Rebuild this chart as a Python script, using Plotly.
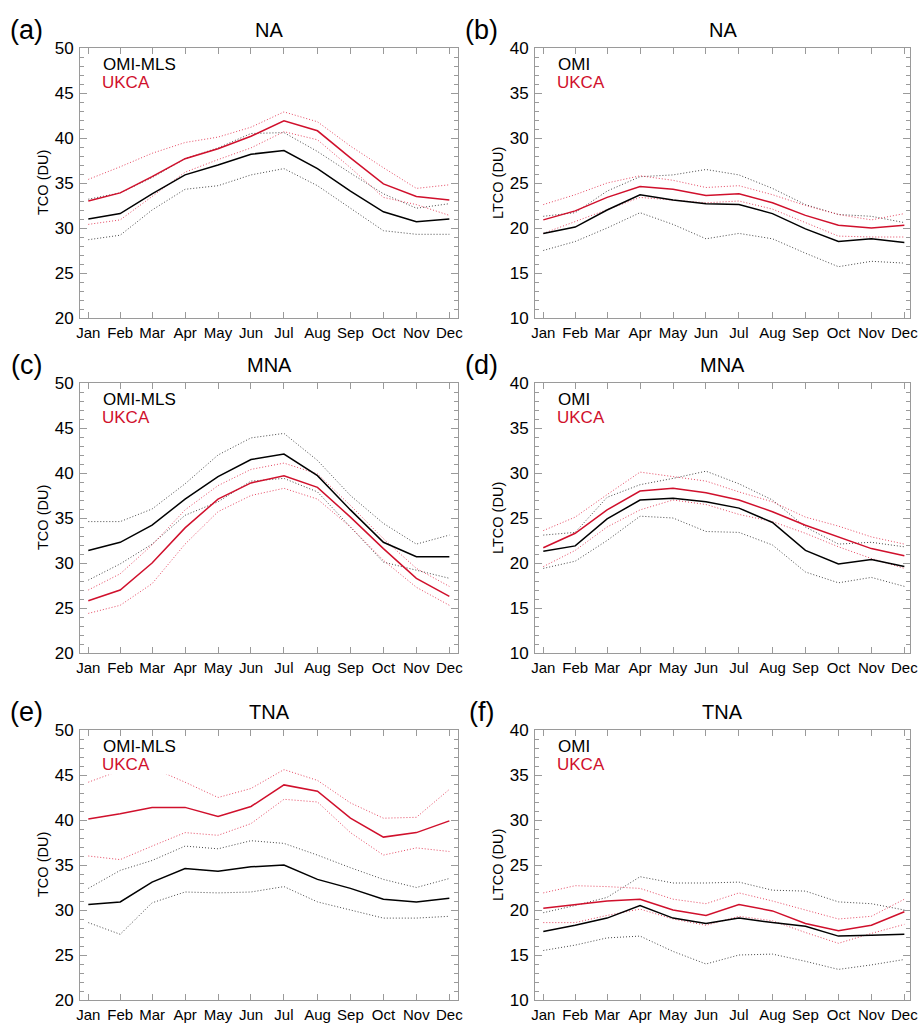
import plotly.graph_objects as go

# ---------------- data ----------------
months = ["Jan", "Feb", "Mar", "Apr", "May", "Jun", "Jul", "Aug", "Sep", "Oct", "Nov", "Dec"]
days_in_month = [31, 28, 31, 30, 31, 30, 31, 31, 30, 31, 30, 31]

# (a) NA TCO
a_obs = [31.0, 31.6, 33.8, 35.9, 37.0, 38.2, 38.6, 36.6, 34.1, 31.8, 30.7, 31.0]
a_obs_hi = [33.2, 33.9, 35.6, 37.7, 38.9, 40.5, 40.6, 38.5, 36.1, 33.8, 32.2, 32.7]
a_obs_lo = [28.7, 29.2, 32.0, 34.3, 34.7, 35.9, 36.6, 34.7, 32.2, 29.7, 29.3, 29.3]
a_mod = [33.0, 33.9, 35.7, 37.7, 38.8, 40.2, 41.9, 40.8, 37.8, 34.9, 33.5, 33.1]
a_mod_hi = [35.4, 36.8, 38.3, 39.5, 40.1, 41.2, 42.9, 41.8, 39.1, 36.7, 34.4, 34.8]
a_mod_lo = [30.4, 30.9, 33.5, 36.2, 37.6, 38.9, 40.7, 39.8, 36.7, 33.4, 32.6, 31.4]

# (b) NA LTCO
b_obs = [19.4, 20.1, 22.0, 23.7, 23.1, 22.7, 22.6, 21.6, 19.9, 18.5, 18.8, 18.4]
b_obs_hi = [21.3, 21.7, 24.1, 25.7, 25.9, 26.5, 25.9, 24.4, 22.6, 21.5, 21.3, 20.6]
b_obs_lo = [17.5, 18.5, 20.0, 21.7, 20.4, 18.8, 19.4, 18.8, 17.2, 15.7, 16.3, 16.1]
b_mod = [20.9, 21.9, 23.4, 24.6, 24.3, 23.6, 23.8, 22.8, 21.4, 20.3, 20.0, 20.3]
b_mod_hi = [22.6, 23.7, 25.0, 25.8, 25.3, 24.5, 24.7, 23.7, 22.5, 21.5, 20.9, 21.6]
b_mod_lo = [19.4, 20.7, 22.0, 23.4, 23.1, 22.8, 23.0, 22.1, 20.6, 19.1, 19.0, 19.0]

# (c) MNA TCO
c_obs = [31.4, 32.3, 34.2, 37.1, 39.6, 41.5, 42.1, 39.7, 35.9, 32.3, 30.7, 30.7]
c_obs_hi = [34.6, 34.6, 36.0, 38.8, 42.0, 43.9, 44.4, 41.4, 37.5, 34.4, 32.1, 33.1]
c_obs_lo = [28.1, 29.9, 32.1, 35.3, 36.8, 39.1, 39.4, 37.9, 34.0, 30.1, 29.2, 28.3]
c_mod = [25.8, 27.0, 30.0, 33.9, 37.1, 38.9, 39.7, 38.4, 35.1, 31.6, 28.3, 26.3]
c_mod_hi = [27.0, 28.8, 32.0, 35.9, 38.6, 40.4, 41.1, 39.9, 36.4, 32.7, 29.4, 27.4]
c_mod_lo = [24.4, 25.3, 27.7, 32.1, 35.7, 37.5, 38.3, 37.1, 34.0, 30.3, 27.3, 25.3]

# (d) MNA LTCO
d_obs = [21.3, 21.9, 24.9, 27.0, 27.2, 26.8, 26.1, 24.5, 21.4, 19.9, 20.4, 19.6]
d_obs_hi = [23.1, 23.4, 27.3, 28.7, 29.4, 30.2, 28.8, 27.0, 24.0, 22.1, 22.3, 21.8]
d_obs_lo = [19.4, 20.2, 22.5, 25.2, 25.0, 23.5, 23.4, 22.0, 19.0, 17.8, 18.4, 17.4]
d_mod = [21.7, 23.3, 25.9, 28.0, 28.3, 27.8, 27.0, 25.7, 24.2, 22.9, 21.6, 20.8]
d_mod_hi = [23.6, 25.1, 27.6, 30.1, 29.6, 29.1, 27.9, 26.8, 25.1, 24.1, 22.9, 22.1]
d_mod_lo = [19.6, 21.4, 24.0, 25.9, 27.0, 26.5, 25.4, 24.6, 23.3, 21.8, 20.5, 19.4]

# (e) TNA TCO
e_obs = [30.6, 30.9, 33.1, 34.6, 34.3, 34.8, 35.0, 33.4, 32.4, 31.2, 30.9, 31.3]
e_obs_hi = [32.4, 34.4, 35.5, 37.1, 36.8, 37.7, 37.4, 36.1, 34.7, 33.4, 32.5, 33.5]
e_obs_lo = [28.6, 27.3, 30.8, 32.0, 31.9, 32.0, 32.6, 30.9, 30.0, 29.1, 29.1, 29.3]
e_mod = [40.1, 40.7, 41.4, 41.4, 40.4, 41.5, 43.9, 43.2, 40.2, 38.1, 38.6, 39.9]
e_mod_hi = [44.2, 45.5, 45.8, 44.2, 42.5, 43.5, 45.6, 44.4, 41.9, 40.2, 40.3, 43.4]
e_mod_lo = [36.0, 35.6, 37.1, 38.6, 38.3, 39.6, 42.3, 42.0, 38.6, 36.1, 36.9, 36.5]

# (f) TNA LTCO
f_obs = [17.6, 18.3, 19.1, 20.5, 19.1, 18.5, 19.1, 18.6, 18.2, 17.1, 17.2, 17.3]
f_obs_hi = [19.7, 20.5, 21.4, 23.7, 23.0, 23.0, 23.1, 22.2, 22.1, 20.9, 20.7, 20.0]
f_obs_lo = [15.5, 16.1, 16.9, 17.1, 15.4, 14.0, 15.0, 15.1, 14.3, 13.4, 13.9, 14.5]
f_mod = [20.2, 20.6, 21.0, 21.2, 20.0, 19.4, 20.6, 19.9, 18.5, 17.7, 18.3, 19.8]
f_mod_hi = [21.9, 22.7, 22.6, 22.4, 21.2, 20.7, 21.9, 21.0, 20.0, 19.0, 19.3, 21.2]
f_mod_lo = [18.6, 18.6, 19.4, 20.1, 19.0, 18.3, 19.3, 18.8, 17.5, 16.3, 17.4, 18.4]

panel_labels = ["(a)", "(b)", "(c)", "(d)", "(e)", "(f)"]
region_titles = ["NA", "NA", "MNA", "MNA", "TNA", "TNA"]
y_titles = ["TCO (DU)", "LTCO (DU)"] * 3
obs_names = ["OMI-MLS", "OMI"] * 3
model_name = "UKCA"
y_ranges = [[20, 50], [10, 40]] * 3

# ---------------- layout helpers ----------------
W, H = 920, 1025
RED = "rgb(208,16,44)"
FRAME = "#9a9a9a"
FONT = "Liberation Sans, Arial, sans-serif"

mid_day = []
acc = 0
for d in days_in_month:
    mid_day.append(acc + d / 2.0)
    acc += d

series = [
    (a_obs, a_obs_hi, a_obs_lo, a_mod, a_mod_hi, a_mod_lo),
    (b_obs, b_obs_hi, b_obs_lo, b_mod, b_mod_hi, b_mod_lo),
    (c_obs, c_obs_hi, c_obs_lo, c_mod, c_mod_hi, c_mod_lo),
    (d_obs, d_obs_hi, d_obs_lo, d_mod, d_mod_hi, d_mod_lo),
    (e_obs, e_obs_hi, e_obs_lo, e_mod, e_mod_hi, e_mod_lo),
    (f_obs, f_obs_hi, f_obs_lo, f_mod, f_mod_hi, f_mod_lo),
]

# plot-area pixel boxes on screen (left, right, top, bottom)
col_x = [(80, 458), (535, 910)]
row_y = [(48, 318), (383, 653), (730, 1000)]
px_per_day = 1.081


def fx(p):
    return p / W


def fy(p):
    return 1 - p / H


fig = go.Figure()
annotations = []
layout_axes = {}

for i in range(6):
    r, c = divmod(i, 2)
    x0, x1 = col_x[c]
    y0, y1 = row_y[r]
    xa = "xaxis" if i == 0 else f"xaxis{i+1}"
    ya = "yaxis" if i == 0 else f"yaxis{i+1}"
    xref = "x" if i == 0 else f"x{i+1}"
    yref = "y" if i == 0 else f"y{i+1}"

    rng_lo = mid_day[0] - 8.3 / px_per_day
    rng_hi = rng_lo + (x1 - x0) / px_per_day

    layout_axes[xa] = dict(
        domain=[fx(x0), fx(x1)], anchor=yref, range=[rng_lo, rng_hi],
        tickmode="array", tickvals=mid_day, ticktext=months,
        ticks="inside", ticklen=6, tickcolor=FRAME, tickwidth=1,
        showline=True, linecolor=FRAME, linewidth=1, mirror="ticks",
        showgrid=False, zeroline=False, automargin=False,
        tickfont=dict(size=15, color="black", family=FONT),
        ticklabelstandoff=1,
    )
    layout_axes[ya] = dict(
        domain=[fy(y1), fy(y0)], anchor=xref, range=y_ranges[i],
        tickmode="linear", tick0=0, dtick=5,
        ticks="inside", ticklen=7, tickcolor=FRAME, tickwidth=1,
        minor=dict(dtick=1, ticklen=4, ticks="inside", tickcolor=FRAME, showgrid=False),
        showline=True, linecolor=FRAME, linewidth=1, mirror="ticks",
        showgrid=False, zeroline=False, automargin=False,
        tickfont=dict(size=17, color="black", family=FONT),
        ticklabelstandoff=2,
    )

    obs, obs_hi, obs_lo, mod, mod_hi, mod_lo = series[i]
    for vals in (obs_hi, obs_lo):
        fig.add_trace(go.Scatter(x=mid_day, y=vals, mode="lines", xaxis=xref, yaxis=yref,
                                 line=dict(color="rgba(40,40,40,0.85)", width=1, dash="1px,2px"),
                                 showlegend=False, hoverinfo="skip"))
    for vals in (mod_hi, mod_lo):
        fig.add_trace(go.Scatter(x=mid_day, y=vals, mode="lines", xaxis=xref, yaxis=yref,
                                 line=dict(color="rgba(225,40,70,0.85)", width=1, dash="1px,2px"),
                                 showlegend=False, hoverinfo="skip"))
    fig.add_trace(go.Scatter(x=mid_day, y=obs, mode="lines", xaxis=xref, yaxis=yref,
                             line=dict(color="black", width=1.5), name=obs_names[i],
                             showlegend=False))
    fig.add_trace(go.Scatter(x=mid_day, y=mod, mode="lines", xaxis=xref, yaxis=yref,
                             line=dict(color=RED, width=1.5), name=model_name,
                             showlegend=False))

    # panel label
    annotations.append(dict(text=panel_labels[i], xref="paper", yref="paper",
                            x=fx(x0 - 54), y=fy(y0 - 18), xanchor="center", yanchor="middle",
                            showarrow=False, font=dict(size=27, color="black", family=FONT)))
    # region title
    annotations.append(dict(text=region_titles[i], xref="paper", yref="paper",
                            x=fx((x0 + x1) / 2), y=fy(y0 - 18), xanchor="center", yanchor="middle",
                            showarrow=False, font=dict(size=20, color="black", family=FONT)))
    # y-axis title
    annotations.append(dict(text=y_titles[i], xref="paper", yref="paper", textangle=-90,
                            x=fx(x0 - 37), y=fy((y0 + y1) / 2), xanchor="center", yanchor="middle",
                            showarrow=False, font=dict(size=14.5, color="black", family=FONT)))
    # legend text
    annotations.append(dict(text=obs_names[i], xref="paper", yref="paper",
                            x=fx(x0 + 21), y=fy(y0 + 16), xanchor="left", yanchor="middle",
                            align="left", showarrow=False,
                            font=dict(size=17, color="black", family=FONT)))
    annotations.append(dict(text=model_name, xref="paper", yref="paper",
                            x=fx(x0 + 21), y=fy(y0 + 34.5), xanchor="left", yanchor="middle",
                            align="left", width=76, bgcolor="white", borderpad=0,
                            showarrow=False, font=dict(size=17, color=RED, family=FONT)))

fig.update_layout(
    width=W, height=H, autosize=False,
    margin=dict(l=0, r=0, t=0, b=0, pad=0),
    paper_bgcolor="white", plot_bgcolor="white",
    showlegend=False,
    annotations=annotations,
    font=dict(family=FONT, color="black"),
    **layout_axes,
)

fig.write_html(
    "out.html",
    config={"displayModeBar": False},
    post_script="document.body.style.margin='0px';document.body.style.overflow='hidden';",
)
